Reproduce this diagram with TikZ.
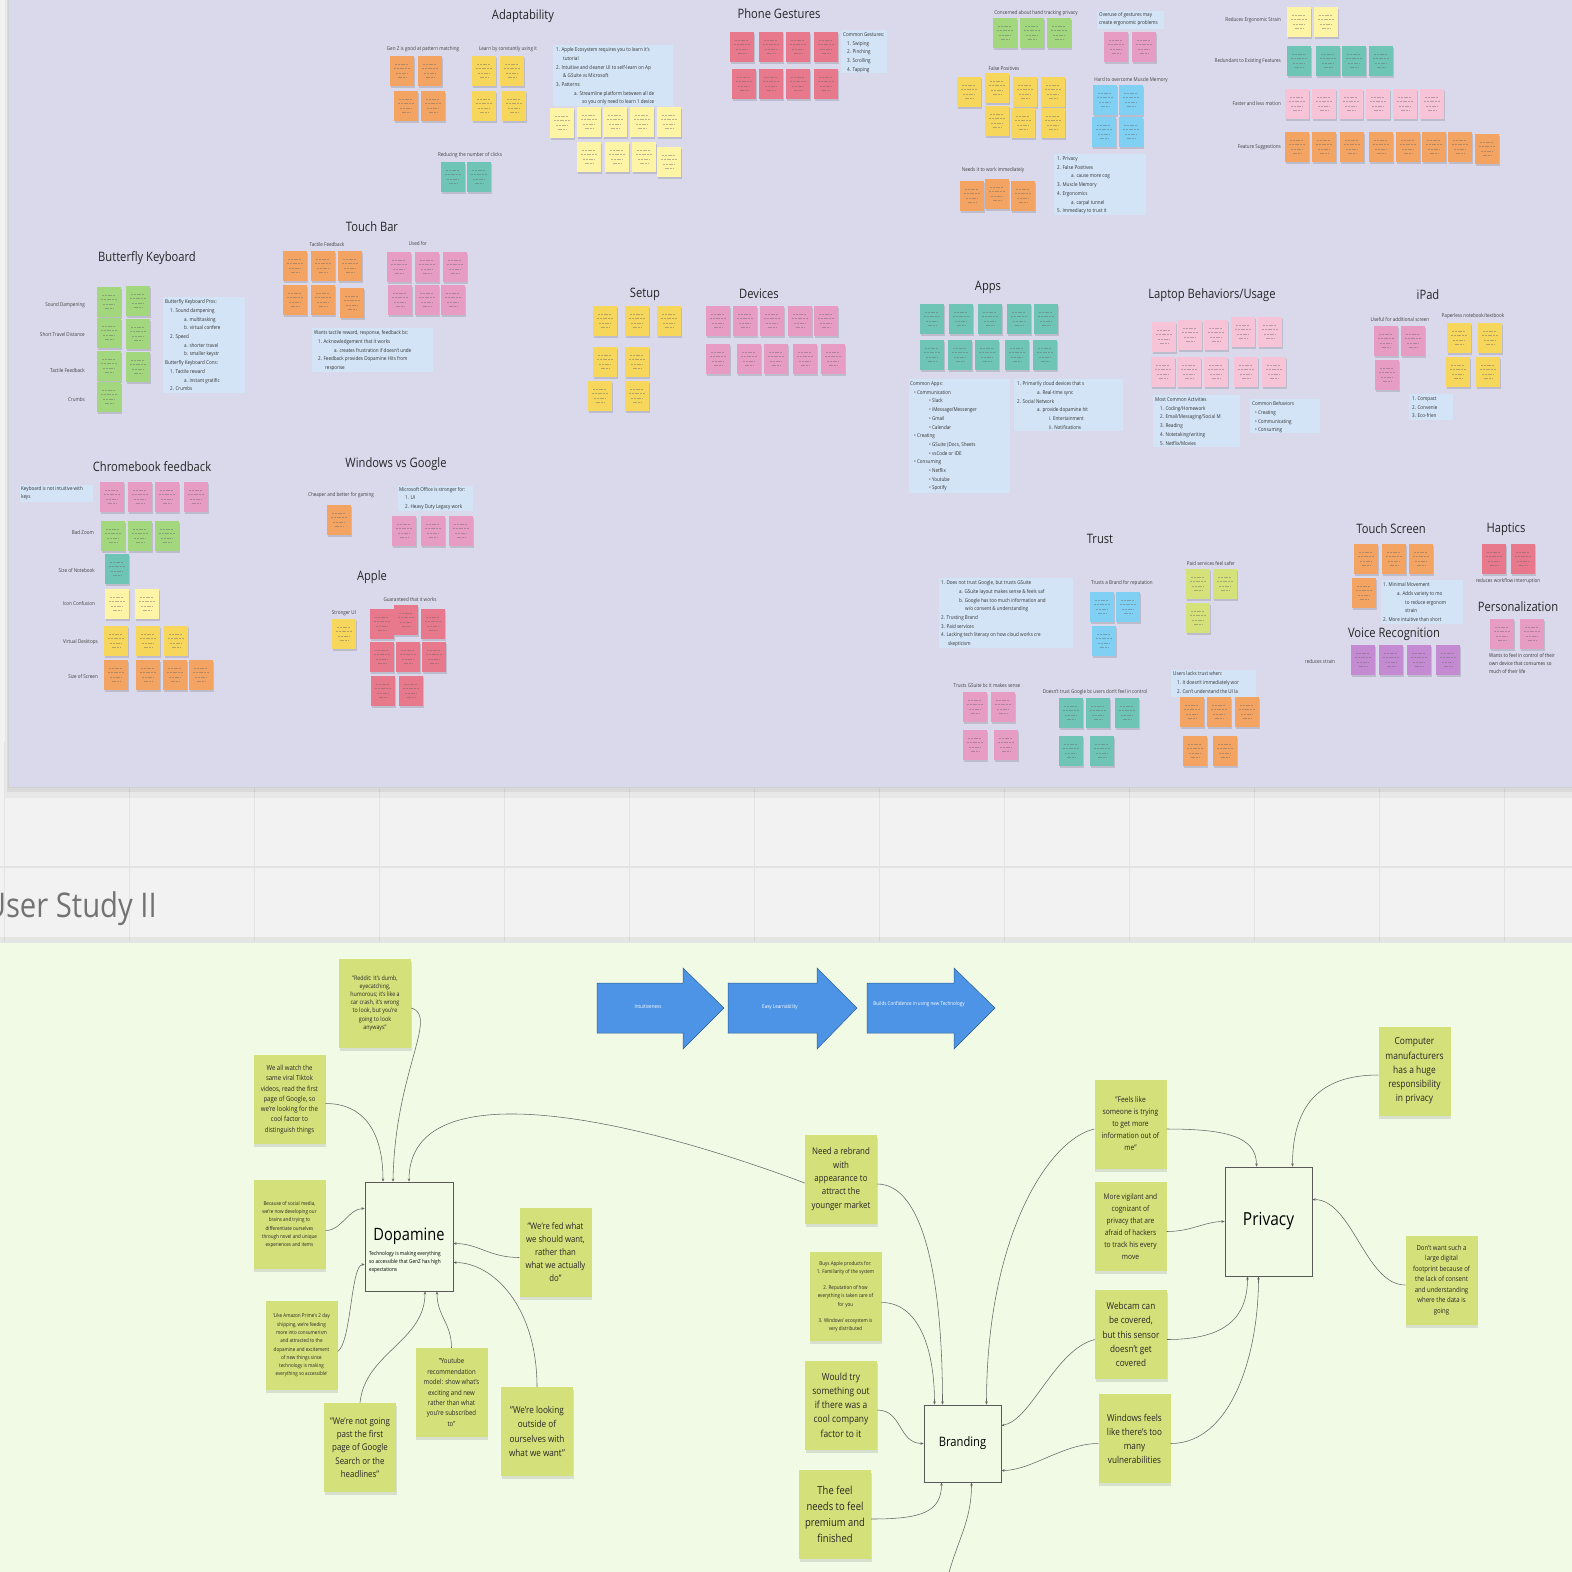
\documentclass[tikz,border=0pt]{standalone}
\usepackage{fontspec}
\setmainfont{Open Sans}[FakeStretch=0.86]
\usetikzlibrary{arrows.meta,shadows}

\definecolor{board}{HTML}{DAD9EC}
\definecolor{floor}{HTML}{F2F2F2}
\definecolor{gridline}{HTML}{E3E3E3}
\definecolor{meadow}{HTML}{F0FAE4}
\definecolor{leaf}{HTML}{D4E17A}
\definecolor{pane}{HTML}{D3E4F6}
\definecolor{ntang}{HTML}{F4A462}
\definecolor{nlemon}{HTML}{F6D75C}
\definecolor{ncream}{HTML}{FDF4A6}
\definecolor{nteal}{HTML}{6FC5B5}
\definecolor{nrose}{HTML}{E8788C}
\definecolor{npink}{HTML}{E79CC4}
\definecolor{nblush}{HTML}{F7C4D7}
\definecolor{ngreen}{HTML}{A2D77E}
\definecolor{nsky}{HTML}{7FD0F2}
\definecolor{nlime}{HTML}{D5E27A}
\definecolor{nplum}{HTML}{C48BD2}
\definecolor{arrowblue}{HTML}{4D94E6}
\definecolor{arrowedge}{HTML}{2F5D95}

\newcommand\fs[2]{\fontsize{#1}{#2}\selectfont}
\newcommand\stickies[2]{\foreach \nx/\ny in {#2}{\fill[black,opacity=.13] (\nx+1,\ny+2) rectangle ++(23.5,30); \fill[#1] (\nx,\ny) rectangle ++(23.5,30); \draw[black!60,opacity=.45,line width=.7pt,dash pattern=on 2pt off .8pt] (\nx+5,\ny+8) -- ++(13.5,0) (\nx+4,\ny+12.5) -- ++(15.5,0) (\nx+6,\ny+17) -- ++(11.5,0) (\nx+7.5,\ny+21.5) -- ++(8.5,0);}}
\newcommand\flowarrow[3]{\filldraw[fill=arrowblue,draw=arrowedge,line width=.5pt] (#1,983) -- (#2,983) -- (#2,968) -- (#3,1008) -- (#2,1049) -- (#2,1033) -- (#1,1033) -- cycle;}

\tikzset{
  heading/.style={font=\fs{13}{15},text=black!85,inner sep=0pt},
  tag/.style={font=\fs{5.3}{7},text=black!75,inner sep=0pt},
  panetext/.style={anchor=north west,align=left,font=\fs{5.3}{8.7},text=black!80,inner sep=0pt},
  idea/.style={fill=leaf,text=black!85,minimum width=72pt,minimum height=89pt,inner sep=1pt,align=center,drop shadow={shadow xshift=.5pt,shadow yshift=-3pt,opacity=.22}},
  theme/.style={draw=black!65,line width=.7pt,inner sep=0pt},
  link/.style={draw=black!60,line width=.55pt,-{Stealth[length=3.2pt,width=2.6pt]}},
  flowtext/.style={text=white,font=\fs{5.3}{6},inner sep=0pt}
}

\begin{document}
\begin{tikzpicture}[x=1pt,y=-1pt]
\useasboundingbox (0,0) rectangle (1572,1572);
\clip (0,0) rectangle (1572,1572);

\fill[floor] (0,0) rectangle (1572,1572);
\foreach \gx in {4,129,...,1572} \draw[gridline,line width=1pt] (\gx,742) -- (\gx,942);
\draw[gridline,line width=1.2pt] (0,867) -- (1572,867);

\fill[black,opacity=.04] (5,0) rectangle (1572,798);
\fill[black,opacity=.06] (7,0) rectangle (1572,792);
\fill[board] (8,0) rectangle (1572,787);
\draw[black!18] (8,0) -- (8,787) -- (1572,787);

\node[heading] (adapt) at (523,16) {Adaptability};
\node[heading] (phone) at (779,14) {Phone Gestures};
\node[heading] (touchbar) at (372,227) {Touch Bar};
\node[heading] (butterfly) at (147,258) {Butterfly Keyboard};
\node[heading] (setup) at (645,294) {Setup};
\node[heading] (devices) at (759,294) {Devices};
\node[heading] (apps) at (988,287) {Apps};
\node[heading] (laptop) at (1212,295) {Laptop Behaviors/Usage};
\node[heading] (ipad) at (1428,295) {iPad};
\node[heading] (chrome) at (152,467) {Chromebook feedback};
\node[heading] (winvs) at (396,464) {Windows vs Google};
\node[heading] (apple) at (372,577) {Apple};
\node[heading] (trust) at (1100,539) {Trust};
\node[heading] (touchscr) at (1391,529) {Touch Screen};
\node[heading] (haptics) at (1506,529) {Haptics};
\node[heading] (personal) at (1518,607) {Personalization};
\node[heading] (voice) at (1394,634) {Voice Recognition};

\stickies{ntang}{390/56,418/56,394/91,421/91,960/181,985/179,1011/181,1285/132,1312/132,1340/132,1369/132,1396/132,1422/132,1448/132,1475/134,283/251,311/251,338/251,283/285,311/285,340/288,104/660,136/660,163/660,189/660,327/505,1180/697,1207/697,1235/697,1183/736,1213/736,1354/544,1382/544,1409/544,1352/578}
\stickies{nlemon}{472/56,500/56,472/91,502/91,957/77,985/73,1013/77,1041/77,985/106,1011/108,1041/108,593/306,625/306,657/306,593/347,625/347,588/381,625/381,104/626,136/626,164/626,332/619,1447/323,1478/323,1446/357,1476/357}
\stickies{ncream}{550/108,577/107,603/107,630/107,657/107,577/142,605/142,632/142,657/147,1287/7,1314/7,105/589,135/589}
\stickies{nteal}{441/162,467/162,1287/46,1316/46,1342/46,1369/46,920/304,949/304,978/304,1007/304,1034/304,920/340,948/340,975/340,1005/340,1033/340,105/554,1059/698,1086/698,1115/698,1059/736,1090/736}
\stickies{nrose}{730/32,759/32,786/32,814/32,732/69,759/69,786/69,814/69,370/609,394/605,421/609,370/642,396/642,422/642,371/676,399/676,1482/544,1511/544}
\stickies{npink}{1104/32,1132/32,387/252,415/252,443/252,388/285,415/285,441/285,706/306,733/306,760/306,788/306,814/306,706/344,737/344,764/344,793/344,821/344,100/482,128/482,155/482,184/482,392/516,421/516,449/516,1374/326,1401/326,1375/360,963/692,991/692,963/730,994/730,1490/619,1520/619}
\stickies{nblush}{1285/89,1312/89,1339/89,1366/89,1393/89,1420/89,1152/322,1178/320,1204/320,1231/317,1258/317,1151/357,1177/357,1204/357,1234/357,1262/357}
\stickies{ngreen}{993/18,1020/18,1047/18,97/287,97/318,97/351,97/382,126/286,126/319,126/352,101/521,128/521,155/521}
\stickies{nsky}{1093/85,1119/85,1092/117,1119/117,1090/592,1116/592,1092/626}
\stickies{nlime}{1186/569,1213/569,1186/603}
\stickies{nplum}{1351/645,1379/645,1407/645,1436/645}

\node[tag] (genz) at (423,49) {Gen Z is good at pattern matching};
\node[tag] (learn) at (508,49) {Learn by constantly using it};
\node[tag] (clicks) at (470,155) {Reducing the number of clicks};
\node[tag] (handtrack) at (1036,13) {Concerned about hand tracking privacy};
\node[tag] (falsepos) at (1004,69) {False Positives};
\node[tag] (muscle) at (1131,80) {Hard to overcome Muscle Memory};
\node[tag] (immediate) at (993,170) {Needs it to work immediately};
\node[tag,anchor=east] (ergo) at (1281,20) {Reduces Ergonomic Strain};
\node[tag,anchor=east] (redundant) at (1281,61) {Redundant to Existing Features};
\node[tag,anchor=east] (faster) at (1281,104) {Faster and less motion};
\node[tag,anchor=east] (suggest) at (1281,147) {Feature Suggestions};
\node[tag] (tactile) at (327,245) {Tactile Feedback};
\node[tag] (usedfor) at (418,243) {Used for};
\node[tag,anchor=east] (sound) at (85,305) {Sound Dampening};
\node[tag,anchor=east] (travel) at (85,335) {Short Travel Distance};
\node[tag,anchor=east] (tactkey) at (85,371) {Tactile Feedback};
\node[tag,anchor=east] (crumbs) at (85,400) {Crumbs};
\node[tag,anchor=east] (badzoom) at (94,533) {Bad Zoom};
\node[tag,anchor=east] (notebook) at (95,570) {Size of Notebook};
\node[tag,anchor=east] (icons) at (95,603) {Icon Confusion};
\node[tag,anchor=east] (desktops) at (98,642) {Virtual Desktops};
\node[tag,anchor=east] (screen) at (98,676) {Size of Screen};
\node[tag] (gaming) at (341,495) {Cheaper and better for gaming};
\node[tag] (works) at (410,600) {Guaranteed that it works};
\node[tag] (strongui) at (344,613) {Stronger UI};
\node[tag] (extrascreen) at (1400,319) {Useful for additional screen};
\node[tag] (paperless) at (1473,316) {Paperless notebook/textbook};
\node[tag] (brandrep) at (1122,583) {Trusts a Brand for reputation};
\node[tag] (paid) at (1211,563) {Paid services feel safer};
\node[tag] (gsuite) at (987,686) {Trusts GSuite bc it makes sense};
\node[tag] (control) at (1095,692) {Doesn't trust Google bc users don't feel in control};
\node[tag] (workflow) at (1508,581) {reduces workflow interruption};
\node[tag] (strain) at (1320,662) {reduces strain};
\node[panetext,font=\fs{5.3}{8}] (owndevice) at (1489,653) {Wants to feel in control of their\\own device that consumes so\\much of their life};

\fill[pane] (553,45) rectangle (673,106);
\node[panetext] (adaptlist) at (556,47.5) {1. Apple Ecosystem requires you to learn it's\\\hspace*{7pt}tutorial\\2. Intuitive and cleaner UI to self-learn on Ap\\\hspace*{7pt}\& GSuite vs Microsoft\\3. Patterns:\\\hspace*{18pt}a. Streamline platform between all de\\\hspace*{26pt}so you only need to learn 1 device};
\fill[pane] (841,30) rectangle (887,73);
\node[panetext] (gestures) at (843,32.5) {Common Gestures:\\\hspace*{4pt}1. Swiping\\\hspace*{4pt}2. Pinching\\\hspace*{4pt}3. Scrolling\\\hspace*{4pt}4. Tapping};
\fill[pane] (1097,11) rectangle (1164,29);
\node[panetext,font=\fs{5.3}{8}] (overuse) at (1099,12.5) {Overuse of gestures may\\create ergonomic problems};
\fill[pane] (1054,154) rectangle (1146,215);
\node[panetext] (handlist) at (1057,156.5) {1. Privacy\\2. False Positives\\\hspace*{14pt}a. cause more cog\\3. Muscle Memory\\4. Ergonomics\\\hspace*{14pt}a. carpal tunnel\\5. Immediacy to trust it};
\fill[pane] (163,297) rectangle (245,393);
\node[panetext] (keylist) at (165,299.5) {Butterfly Keyboard Pros:\\\hspace*{5pt}1. Sound dampening\\\hspace*{19pt}a. multitasking\\\hspace*{19pt}b. virtual confere\\\hspace*{5pt}2. Speed\\\hspace*{19pt}a. shorter travel\\\hspace*{19pt}b. smaller keystr\\Butterfly Keyboard Cons:\\\hspace*{5pt}1. Tactile reward\\\hspace*{19pt}a. instant gratific\\\hspace*{5pt}2. Crumbs};
\fill[pane] (312,328) rectangle (433,372);
\node[panetext] (barlist) at (314,330.5) {Wants tactile reward, response, feedback bc:\\\hspace*{4pt}1. Acknowledgement that it works\\\hspace*{20pt}a. creates frustration if doesn't unde\\\hspace*{4pt}2. Feedback provides Dopamine Hits from\\\hspace*{11pt}response};
\fill[pane] (20,485) rectangle (93,502);
\node[panetext,font=\fs{5.3}{8}] (keyboard) at (21,486.5) {Keyboard is not intuitive with\\keys};
\fill[pane] (398,486) rectangle (473,511);
\node[panetext,font=\fs{5.3}{8.2}] (office) at (399,487.5) {Microsoft Office is stronger for:\\\hspace*{6pt}1. UI\\\hspace*{6pt}2. Heavy Duty Legacy work};
\fill[pane] (909,379) rectangle (1010,493);
\node[panetext] (applist) at (910,381.5) {Common Apps:\\\hspace*{4pt}• Communication\\\hspace*{19pt}• Slack\\\hspace*{19pt}• iMessage/Messenger\\\hspace*{19pt}• Gmail\\\hspace*{19pt}• Calendar\\\hspace*{4pt}• Creating\\\hspace*{19pt}• GSuite (Docs, Sheets\\\hspace*{19pt}• vsCode or IDE\\\hspace*{4pt}• Consuming\\\hspace*{19pt}• Netflix\\\hspace*{19pt}• Youtube\\\hspace*{19pt}• Spotify};
\fill[pane] (1014,379) rectangle (1123,431);
\node[panetext] (cloudlist) at (1017,381.5) {1. Primarily cloud devices that s\\\hspace*{20pt}a. Real-time sync\\2. Social Network\\\hspace*{20pt}a. provide dopamine hit\\\hspace*{32pt}i. Entertainment\\\hspace*{32pt}ii. Notifications};
\fill[pane] (1153,395) rectangle (1240,447);
\node[panetext] (activities) at (1155,397.5) {Most Common Activities\\\hspace*{5pt}1. Coding/Homework\\\hspace*{5pt}2. Email/Messaging/Social M\\\hspace*{5pt}3. Reading\\\hspace*{5pt}4. Notetaking/writing\\\hspace*{5pt}5. Netflix/Movies};
\fill[pane] (1250,399) rectangle (1320,433);
\node[panetext] (behaviors) at (1252,401.5) {Common Behaviors\\\hspace*{3pt}• Creating\\\hspace*{3pt}• Communicating\\\hspace*{3pt}• Consuming};
\fill[pane] (1409,394) rectangle (1453,420);
\node[panetext] (ipadlist) at (1412,396.5) {1. Compact\\2. Convenie\\3. Eco-frien};
\fill[pane] (939,578) rectangle (1073,648);
\node[panetext] (trustlist) at (941,580.5) {1. Does not trust Google, but trusts GSuite\\\hspace*{18pt}a. GSuite layout makes sense \& feels saf\\\hspace*{18pt}b. Google has too much information and\\\hspace*{24pt}w/o consent \& understanding\\2. Trusting Brand\\3. Paid services\\4. Lacking tech literacy on how cloud works cre\\\hspace*{7pt}skepticism};
\fill[pane] (1171,670) rectangle (1256,697);
\node[panetext] (lacktrust) at (1173,671.5) {Users lacks trust when:\\\hspace*{4pt}1. It doesn't immediately wor\\\hspace*{4pt}2. Can't understand the UI la};
\fill[pane] (1381,580) rectangle (1463,624);
\node[panetext] (touchlist) at (1383,582.5) {1. Minimal Movement\\\hspace*{14pt}a. Adds variety to mo\\\hspace*{22pt}to reduce ergonom\\\hspace*{22pt}strain\\2. More intuitive than short};

\node[anchor=base east,font=\fs{34}{38},text=black!55,inner sep=0pt] (study) at (157,917) {User Study II};

\fill[black,opacity=.05] (0,937) rectangle (1572,942);
\fill[meadow] (0,942) rectangle (1572,1572);
\draw[black!10] (0,942) -- (1572,942);

\flowarrow{597}{683}{724}
\flowarrow{728}{817}{857}
\flowarrow{867}{954}{995}
\node[flowtext] (intuitive) at (648,1007) {Intuitiveness};
\node[flowtext] (learnable) at (780,1007) {Easy Learnability};
\node[flowtext] (confidence) at (919,1004) {Builds Confidence in using new Technology};

\node[idea,font=\fs{6.2}{8.2}] (reddit) at (375,1003) {"Reddit: It's dumb,\\eyecatching,\\humorous; it's like a\\car crash, it's wrong\\to look, but you're\\going to look\\anyways"};
\node[idea,font=\fs{7}{10.3}] (tiktok) at (289.5,1099.5) {We all watch the\\same viral Tiktok\\videos, read the first\\page of Google, so\\we're looking for the\\cool factor to\\distinguish things};
\node[idea,font=\fs{5.3}{8.3}] (social) at (289.5,1224.5) {Because of social media,\\we're now developing our\\brains and trying to\\differentiate ourselves\\through novel and unique\\experiences and items};
\node[idea,font=\fs{5.3}{8.3}] (amazon) at (301.5,1345.5) {`Like Amazon Prime's 2 day\\shipping, we're feeding\\more into consumerism\\and attracted to the\\dopamine and excitement\\of new things since\\technology is making\\everything so accessible'};
\node[idea,font=\fs{9.2}{13.3}] (notpast) at (360,1447.5) {"We're not going\\past the first\\page of Google\\Search or the\\headlines"};
\node[idea,font=\fs{7}{10.4}] (youtube) at (451.5,1392.5) {"Youtube\\recommendation\\model: show what's\\exciting and new\\rather than what\\you're subscribed\\to"};
\node[idea,font=\fs{9.5}{14.2}] (outside) at (537,1431.5) {"We're looking\\outside of\\ourselves with\\what we want"};
\node[idea,font=\fs{9}{13}] (fed) at (555.5,1252.5) {"We're fed what\\we should want,\\rather than\\what we actually\\do"};

\node[theme,minimum width=88pt,minimum height=109pt] (dop) at (409,1236.5) {};
\node[font=\fs{17}{20},inner sep=0pt] (doptitle) at (409,1236) {Dopamine};
\node[anchor=north west,align=left,font=\fs{5.5}{8.3},inner sep=0pt] (dopnote) at (369,1251) {Technology is making everything\\so accessible that GenZ has high\\expectations};

\node[idea,font=\fs{9.2}{13.3}] (rebrand) at (841,1179) {Need a rebrand\\with\\appearance to\\attract the\\younger market};
\node[idea,font=\fs{5.3}{8.1}] (buys) at (845.5,1296.5) {Buys Apple products for:\\1. Familiarity of the system\\[8.1pt]2. Reputation of how\\everything is taken care of\\for you\\[8.1pt]3. Windows' ecosystem is\\very distributed};
\node[idea,font=\fs{9.8}{14.2}] (wouldtry) at (841,1405) {Would try\\something out\\if there was a\\cool company\\factor to it};
\node[idea,font=\fs{11}{16}] (feel) at (835,1514) {The feel\\needs to feel\\premium and\\finished};
\node[theme,minimum size=77pt,font=\fs{13}{15}] (branding) at (962.5,1443.5) {Branding};

\node[idea,font=\fs{7.8}{12}] (feels) at (1130.5,1124) {"Feels like\\someone is trying\\to get more\\information out of\\me"};
\node[idea,font=\fs{7.7}{11.9}] (vigilant) at (1130.5,1226.5) {More vigilant and\\cognizant of\\privacy that are\\afraid of hackers\\to track his every\\move};
\node[idea,font=\fs{9.5}{14.3}] (webcam) at (1131,1334.5) {Webcam can\\be covered,\\but this sensor\\doesn't get\\covered};
\node[idea,font=\fs{9.5}{14}] (winfeels) at (1134.5,1438.5) {Windows feels\\like there's too\\many\\vulnerabilities};
\node[idea,font=\fs{9.8}{14.3}] (computer) at (1414.5,1071) {Computer\\manufacturers\\has a huge\\responsibility\\in privacy};
\node[idea,font=\fs{7}{10.5}] (dontwant) at (1441.5,1280) {Don't want such a\\large digital\\footprint because of\\the lack of consent\\and understanding\\where the data is\\going};
\node[theme,minimum width=87pt,minimum height=109pt,font=\fs{18}{20}] (privacy) at (1268.5,1221.5) {Privacy};
\coordinate (offbrand) at (947,1580);

\draw[link] ([yshift=-5pt]reddit.east) .. controls +(28,8) and +(2,-110) .. ([xshift=-16pt]dop.north);
\draw[link] ([yshift=-4pt]tiktok.east) .. controls +(38,0) and +(0,-50) .. ([xshift=-26pt]dop.north);
\draw[link] ([yshift=-4pt]rebrand.west) .. controls +(-200,-75) and +(0,-105) .. (dop.north);
\draw[link] ([yshift=-6pt]social.east) .. controls +(16,0) and +(-16,0) .. ([yshift=28pt]dop.west);
\draw[link] ([yshift=-6pt]amazon.east) .. controls +(14,-10) and +(-14,0) .. ([yshift=-28pt]dop.west);
\draw[link] (notpast.north) .. controls +(5,-50) and +(0,50) .. ([xshift=16pt]dop.south);
\draw[link] (youtube.north) .. controls +(0,-25) and +(0,25) .. ([xshift=28pt]dop.south);
\draw[link] (outside.north) .. controls +(0,-80) and +(40,0) .. ([yshift=-26pt]dop.east);
\draw[link] ([yshift=-5pt]fed.west) .. controls +(-30,0) and +(25,0) .. ([yshift=-7pt]dop.east);

\draw[link] ([yshift=-5pt]rebrand.east) .. controls +(45,0) and +(0,-130) .. ([xshift=-20pt]branding.north);
\draw[link] ([yshift=-6pt]buys.east) .. controls +(35,0) and +(0,-60) .. ([xshift=-28pt]branding.north);
\draw[link] ([yshift=-5pt]wouldtry.east) .. controls +(25,0) and +(-25,0) .. (branding.west);
\draw[link] ([yshift=-5pt]feel.east) .. controls +(50,0) and +(0,30) .. ([xshift=-21pt]branding.south);
\draw[link] (offbrand) .. controls +(10,-40) and +(0,40) .. ([xshift=9pt]branding.south);
\draw[link] ([yshift=-5pt]feels.west) .. controls +(-45,10) and +(0,-170) .. ([xshift=24pt]branding.north);
\draw[link] ([yshift=-5pt]webcam.west) .. controls +(-40,10) and +(30,-5) .. ([yshift=18pt]branding.east);
\draw[link] ([yshift=-5pt]winfeels.west) .. controls +(-35,0) and +(30,0) .. ([yshift=-27pt]branding.east);

\draw[link] ([yshift=-5pt]feels.east) .. controls +(60,0) and +(0,-30) .. ([xshift=-12pt]privacy.north);
\draw[link] ([yshift=-4pt]computer.west) .. controls +(-60,0) and +(0,-60) .. ([xshift=24pt]privacy.north);
\draw[link] ([yshift=-5pt]vigilant.east) .. controls +(25,0) and +(-20,0) .. (privacy.west);
\draw[link] ([yshift=-5pt]dontwant.west) .. controls +(-40,0) and +(40,0) .. ([yshift=22pt]privacy.east);
\draw[link] ([yshift=-5pt]webcam.east) .. controls +(60,0) and +(0,40) .. ([xshift=-21pt]privacy.south);
\draw[link] ([yshift=-5pt]winfeels.east) .. controls +(60,0) and +(0,80) .. ([xshift=-10pt]privacy.south);
\end{tikzpicture}
\end{document}
